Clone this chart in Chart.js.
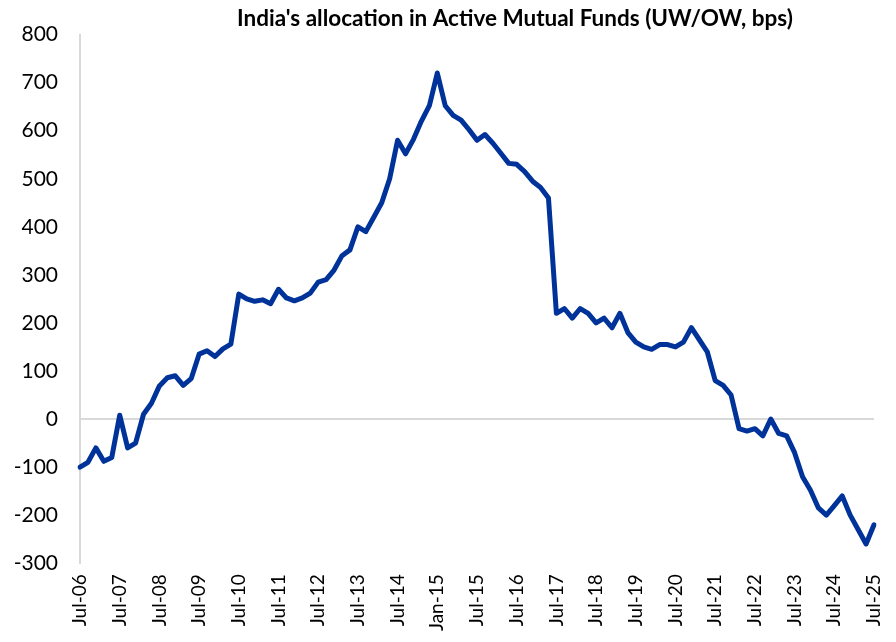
<!DOCTYPE html>
<html>
<head>
<meta charset="utf-8">
<script src="https://cdn.jsdelivr.net/npm/chart.js@4"></script>
<style>
    html, body { margin: 0; padding: 0; background: #fff; }
    #wrap { width: 896px; height: 642px; }
</style>
</head>
<body>
<div id="wrap"><canvas id="allocChart"></canvas></div>
<script>
const chartTitle = "India's allocation in Active Mutual Funds (UW/OW, bps)";

// labels shown on the x axis, one every 5 data points
const tickLabels = ["Jul-06", "Jul-07", "Jul-08", "Jul-09", "Jul-10", "Jul-11", "Jul-12",
    "Jul-13", "Jul-14", "Jan-15", "Jul-15", "Jul-16", "Jul-17", "Jul-18", "Jul-19",
    "Jul-20", "Jul-21", "Jul-22", "Jul-23", "Jul-24", "Jul-25"];

// UW/OW in bps
const allocation = [
    -100, -90, -60, -88, -80, 8, -60, -50, 10, 33,
    69, 86, 90, 70, 84, 135, 142, 130, 146, 156,
    260, 250, 245, 248, 240, 270, 252, 246, 252, 262,
    285, 290, 310, 340, 352, 400, 390, 420, 450, 500,
    580, 552, 582, 620, 652, 720, 652, 632, 622, 602,
    580, 592, 574, 553, 532, 530, 515, 495, 482, 460,
    220, 230, 210, 230, 220, 200, 210, 190, 220, 180,
    160, 150, 145, 155, 155, 150, 160, 190, 165, 140,
    80, 70, 50, -20, -25, -20, -35, 0, -30, -35,
    -70, -120, -148, -185, -200, -180, -160, -200, -230, -260,
    -220
];

const yMin = -300;
const yMax = 800;
const yStep = 100;

document.addEventListener("DOMContentLoaded", function () {
    const categories = allocation.map((v, i) => (i % 5 === 0 ? tickLabels[i / 5] : ""));

    // title is drawn by hand so it can sit right of centre like the original
    const titlePlugin = {
        id: "titleText",
        afterDraw(chart) {
            const c = chart.ctx;
            c.save();
            c.font = "bold 22.5px Lato";
            c.fillStyle = "#000";
            c.textAlign = "center";
            c.textBaseline = "middle";
            c.fillText(chartTitle, 515, 19);
            c.restore();
        }
    };

    const ctx = document.getElementById("allocChart").getContext("2d");
    const allocChart = new Chart(ctx, {
        type: "line",
        data: {
            labels: categories,
            datasets: [{
                data: allocation,
                borderColor: "#003399",
                borderWidth: 5,
                borderJoinStyle: "round",
                borderCapStyle: "round",
                pointRadius: 0,
                tension: 0,
                fill: false
            }]
        },
        options: {
            responsive: true,
            maintainAspectRatio: false,
            animation: false,
            layout: {
                padding: { left: 0, right: 22, top: 30, bottom: 0 }
            },
            plugins: {
                legend: { display: false },
                tooltip: { enabled: false }
            },
            scales: {
                x: {
                    offset: false,
                    afterFit: function (scale) {
                        // let the line run out to the right edge like the original
                        scale.paddingLeft = 0;
                        scale.paddingRight = 0;
                    },
                    grid: { display: false, drawTicks: false },
                    border: { display: false },
                    ticks: {
                        autoSkip: false,
                        maxRotation: 90,
                        minRotation: 90,
                        padding: 11,
                        color: "#000",
                        font: { family: "Lato", size: 19 },
                        callback: function (val, i) {
                            return i % 5 === 0 ? tickLabels[i / 5] : null;
                        }
                    }
                },
                y: {
                    min: yMin,
                    max: yMax,
                    afterFit: function (scale) {
                        scale.width = 80;
                    },
                    grid: {
                        drawTicks: false,
                        lineWidth: 2,
                        color: c => (c.tick && c.tick.value === 0 ? "#d9d9d9" : "rgba(0,0,0,0)")
                    },
                    border: { display: true, color: "#d9d9d9", width: 2 },
                    ticks: {
                        stepSize: yStep,
                        padding: 22,
                        color: "#000",
                        font: { family: "Lato", size: 21 }
                    }
                }
            }
        },
        plugins: [titlePlugin]
    });
});
</script>
</body>
</html>
